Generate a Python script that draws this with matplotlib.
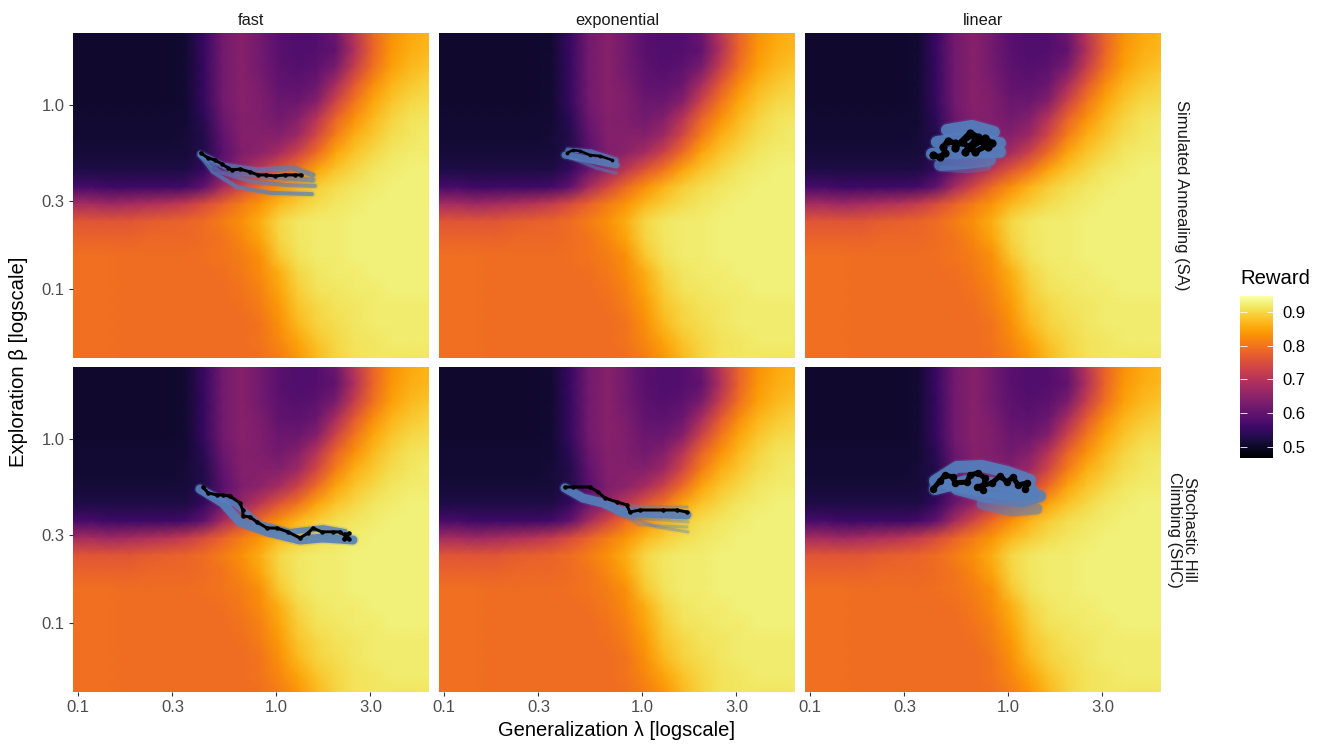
"""
Reward landscape over generalization and exploration, six search strategies
"""
import numpy as np
import matplotlib
matplotlib.use("Agg")
import matplotlib.pyplot as plt

plt.rcParams['font.family'] = ['Liberation Sans', 'DejaVu Sans']

schedules = ["fast", "exponential", "linear"]
algorithms = ["Simulated Annealing (SA)", "Stochastic Hill\nClimbing (SHC)"]

lam_ticks = [0.1, 0.3, 1.0, 3.0]
beta_ticks = [0.1, 0.3, 1.0]
reward_ticks = [0.5, 0.6, 0.7, 0.8, 0.9]

lam_grid = [0.0944, 0.1174, 0.146, 0.1815, 0.2258, 0.2807, 0.349, 0.434, 0.5395, 0.671,
            0.834, 1.037, 1.29, 1.604, 1.995, 2.48, 3.08, 3.83, 4.77, 5.93]
beta_grid = [2.46, 1.986, 1.604, 1.295, 1.045, 0.843, 0.681, 0.550, 0.444, 0.358,
             0.289, 0.233, 0.188, 0.152, 0.123, 0.0993, 0.0802, 0.0647, 0.0522, 0.0422]

# mean reward, one row per beta_grid value, one column per lam_grid value
reward = [
    [.505, .505, .505, .505, .505, .505, .51, .555, .62, .645, .62, .59, .58, .585, .61, .70, .78, .83, .855, .865],
    [.505, .505, .505, .505, .505, .505, .51, .555, .62, .645, .62, .59, .58, .585, .60, .69, .78, .835, .86, .87],
    [.505, .505, .505, .505, .505, .505, .51, .55, .62, .645, .62, .595, .585, .595, .625, .72, .795, .845, .87, .88],
    [.505, .505, .505, .505, .505, .505, .51, .55, .62, .645, .63, .60, .595, .61, .68, .765, .825, .865, .885, .895],
    [.505, .505, .505, .505, .505, .505, .51, .55, .62, .645, .635, .61, .61, .64, .73, .80, .85, .88, .90, .905],
    [.51, .51, .51, .51, .51, .51, .51, .54, .61, .64, .635, .62, .64, .70, .78, .83, .87, .895, .91, .915],
    [.51, .51, .51, .51, .51, .51, .515, .53, .60, .64, .64, .64, .67, .74, .81, .86, .885, .905, .915, .92],
    [.515, .515, .515, .515, .515, .515, .515, .53, .59, .635, .65, .68, .73, .79, .85, .88, .90, .915, .92, .92],
    [.525, .525, .525, .525, .525, .525, .525, .55, .61, .66, .71, .76, .80, .85, .88, .90, .915, .92, .925, .925],
    [.57, .57, .56, .56, .56, .56, .565, .60, .68, .74, .79, .83, .865, .89, .905, .915, .92, .925, .925, .925],
    [.68, .68, .67, .68, .69, .70, .72, .75, .78, .81, .835, .87, .89, .905, .915, .92, .925, .925, .925, .925],
    [.76, .76, .76, .76, .77, .775, .78, .79, .81, .83, .86, .90, .915, .92, .92, .925, .925, .925, .925, .925],
    [.78, .78, .78, .78, .785, .785, .785, .79, .80, .82, .85, .895, .915, .92, .92, .925, .925, .925, .925, .925],
    [.795, .795, .795, .79, .79, .79, .79, .795, .80, .81, .83, .885, .91, .92, .92, .925, .925, .925, .925, .925],
    [.795, .795, .795, .79, .79, .79, .79, .79, .795, .805, .825, .86, .90, .915, .92, .92, .925, .925, .925, .925],
    [.795, .795, .795, .79, .79, .79, .79, .79, .79, .80, .815, .85, .89, .91, .915, .92, .92, .925, .925, .925],
    [.795, .795, .795, .79, .79, .79, .79, .79, .79, .795, .81, .84, .88, .90, .91, .915, .92, .92, .92, .92],
    [.795, .795, .795, .79, .79, .79, .79, .79, .79, .79, .80, .83, .87, .895, .905, .915, .92, .92, .92, .92],
    [.795, .795, .795, .79, .79, .79, .79, .79, .79, .79, .80, .82, .85, .88, .90, .91, .915, .92, .92, .92],
    [.795, .795, .795, .79, .79, .79, .79, .79, .79, .79, .795, .81, .835, .87, .895, .91, .915, .915, .915, .915],
]

# best run per panel, log10(lambda) and log10(beta)
best_sa_fast_x = [-.379, -.343, -.308, -.273, -.242, -.222, -.182, -.131, -.091, -.051, -.005, .045, .096, .126]
best_sa_fast_y = [-.261, -.288, -.299, -.321, -.342, -.353, -.348, -.364, -.380, -.380, -.386, -.380, -.380, -.380]
best_sa_exp_x = [-.379, -.348, -.313, -.263, -.212, -.152]
best_sa_exp_y = [-.261, -.245, -.250, -.272, -.277, -.299]
best_sa_lin_x = [-.379, -.343, -.318, -.328, -.303, -.268, -.268, -.192, -.152, -.217, -.116, -.081, -.167, -.232, -.182, -.101]
best_sa_lin_y = [-.272, -.283, -.261, -.228, -.196, -.207, -.234, -.152, -.174, -.255, -.179, -.207, -.255, -.201, -.163, -.228]
best_shc_fast_x = [-.369, -.343, -.298, -.268, -.232, -.182, -.167, -.167, -.131, -.096, -.045, .005, .061, .121, .162, .187,
                   .232, .288, .323, .359, .348, .369, .343, .369]
best_shc_fast_y = [-.261, -.293, -.304, -.304, -.310, -.348, -.386, -.418, -.424, -.451, -.484, -.484, -.505, -.538, -.511,
                   -.484, -.505, -.505, -.505, -.533, -.516, -.543, -.543, -.511]
best_shc_exp_x = [-.389, -.348, -.263, -.222, -.187, -.126, -.076, -.061, -.010, .106, .177, .227]
best_shc_exp_y = [-.261, -.261, -.261, -.288, -.321, -.342, -.359, -.397, -.386, -.386, -.386, -.397]
best_shc_lin_x = [-.379, -.343, -.318, -.278, -.268, -.207, -.192, -.152, -.116, -.126, -.157, -.081, -.040, -.005, .025, .051, .096, .086]
best_shc_lin_y = [-.272, -.228, -.196, -.207, -.239, -.234, -.196, -.185, -.212, -.277, -.261, -.239, -.201, -.234, -.207, -.250, -.239, -.272]

# other runs per panel, (log10(lambda), log10(beta))
runs_sa_fast = [
    ([-.384, -.318, -.197, -.030, .182], [-.272, -.364, -.446, -.478, -.484]),
    ([-.384, -.283, -.116, .056, .197], [-.272, -.364, -.418, -.435, -.440]),
    ([-.384, -.268, -.096, .086, .187], [-.261, -.326, -.353, -.342, -.380]),
    ([-.384, -.197, -.030, .187], [-.272, -.370, -.391, -.408]),
]
runs_sa_exp = [
    ([-.389, -.308, -.207, -.131], [-.272, -.288, -.310, -.326]),
    ([-.374, -.258, -.131], [-.245, -.255, -.299]),
    ([-.359, -.232, -.131], [-.288, -.342, -.370]),
]
runs_sa_lin = [
    ([-.308, -.182, -.071], [-.136, -.114, -.147]),
    ([-.359, -.207, -.040], [-.201, -.179, -.207]),
    ([-.384, -.207, -.040], [-.266, -.255, -.255]),
    ([-.343, -.207, -.091], [-.326, -.315, -.299]),
    ([-.330, -.207, -.100], [-.345, -.355, -.340]),
]
runs_shc_fast = [
    ([-.384, -.268, -.182, -.045, .121, .237, .389], [-.272, -.348, -.451, -.505, -.549, -.538, -.549]),
    ([-.333, -.207, -.081, .071, .237, .348], [-.299, -.353, -.462, -.505, -.484, -.505]),
]
runs_shc_exp = [
    ([-.389, -.298, -.197, -.096, -.010, .227], [-.266, -.321, -.348, -.397, -.402, -.413]),
    ([-.131, -.076, .227], [-.397, -.364, -.370]),
    ([-.131, -.045, .232], [-.397, -.429, -.451]),
    ([-.131, -.010, .227], [-.397, -.467, -.478]),
    ([-.131, .076, .232], [-.397, -.478, -.505]),
]
runs_shc_lin = [
    ([-.369, -.258, -.131, -.005, .111], [-.228, -.152, -.147, -.179, -.223]),
    ([-.369, -.207, -.030, .121], [-.272, -.228, -.245, -.277]),
    ([-.310, -.150, .000, .130], [-.245, -.280, -.300, -.300]),
    ([-.258, -.106, .071, .162], [-.272, -.315, -.337, -.310]),
    ([-.131, .020, .146], [-.353, -.391, -.380]),
]

best_runs = [
    [(best_sa_fast_x, best_sa_fast_y), (best_sa_exp_x, best_sa_exp_y), (best_sa_lin_x, best_sa_lin_y)],
    [(best_shc_fast_x, best_shc_fast_y), (best_shc_exp_x, best_shc_exp_y), (best_shc_lin_x, best_shc_lin_y)],
]
other_runs = [
    [runs_sa_fast, runs_sa_exp, runs_sa_lin],
    [runs_shc_fast, runs_shc_exp, runs_shc_lin],
]
# stroke width and opacity of each other run in pixels, per panel
run_widths = [
    [[4, 4, 5, 5], [7, 5, 3], [12, 12, 12, 12, 6]],
    [[9, 6], [9, 3, 3, 3, 3], [12, 12, 12, 12, 11]],
]
run_alphas = [
    [[.7, .6, .65, .6], [.85, .75, .5], [.9, .9, .9, .75, .35]],
    [[.9, .85], [.9, .4, .35, .35, .4], [.9, .9, .9, .85, .55]],
]
best_widths = [[3, 2.5, 5.5], [3, 3, 5]]

W, H = 1323, 744
PANEL_X = [73, 439, 805]
PANEL_Y = [33, 367]
PANEL_W, PANEL_H = 356, 325
BLUE = "#5480bd"
GREY = "#4d4d4d"


def add_axes_px(fig, x, y, w, h):
    """ Add axes from a pixel box with origin at the top left """
    return fig.add_axes([x / W, 1 - (y + h) / H, w / W, h / H])


def px(n):
    """ Pixels to points """
    return n * 0.72


fig = plt.figure(figsize=(W / 100, H / 100), dpi=100)
mesh = None
for row in range(2):
    for col in range(3):
        ax = add_axes_px(fig, PANEL_X[col], PANEL_Y[row], PANEL_W, PANEL_H)
        mesh = ax.pcolormesh(lam_grid, beta_grid, reward, cmap="inferno", vmin=0.467, vmax=0.947,
                             shading="gouraud", rasterized=True)
        ax.set_xscale("log")
        ax.set_yscale("log")
        ax.set_xlim(lam_grid[0], lam_grid[-1])
        ax.set_ylim(beta_grid[-1], beta_grid[0])

        runs = other_runs[row][col]
        for (xs, ys), width, alpha in zip(runs, run_widths[row][col], run_alphas[row][col]):
            lx, ly = 10 ** np.array(xs), 10 ** np.array(ys)
            ax.plot(lx, ly, color=BLUE, lw=px(width + 3), alpha=alpha * 0.2, solid_capstyle="round")
            ax.plot(lx, ly, color=BLUE, lw=px(width), alpha=alpha, solid_capstyle="round")

        xs, ys = best_runs[row][col]
        width = best_widths[row][col]
        ax.plot(10 ** np.array(xs), 10 ** np.array(ys), color="black", lw=px(width), marker="o",
                ms=px(width * 1.5), mew=0, solid_capstyle="round", solid_joinstyle="round")

        for side in ax.spines.values():
            side.set_visible(False)
        ax.minorticks_off()
        ax.set_xticks(lam_ticks)
        ax.set_yticks(beta_ticks)
        ax.set_xticklabels([f"{t:.1f}" for t in lam_ticks] if row == 1 else [])
        ax.set_yticklabels([f"{t:.1f}" for t in beta_ticks] if col == 0 else [])
        ax.tick_params(axis="x", length=px(4) if row == 1 else 0, width=0.8, color="#333333",
                       labelcolor=GREY, labelsize=12, pad=3)
        ax.tick_params(axis="y", length=px(4) if col == 0 else 0, width=0.8, color="#333333",
                       labelcolor=GREY, labelsize=12, pad=3)

        if row == 0:
            ax.text(0.5, 1.014, schedules[col], transform=ax.transAxes, ha="center", va="bottom",
                    fontsize=11.8, color="#1a1a1a")
        if col == 2:
            ax.text(1.058, 0.5, algorithms[row], transform=ax.transAxes, ha="center", va="center",
                    rotation=-90, fontsize=12, color="#1a1a1a", linespacing=1.0, multialignment="center")

fig.text(616 / W, 1 - 731 / H, "Generalization λ [logscale]", ha="center", va="center", fontsize=14.5)
fig.text(19 / W, 1 - 362 / H, "Exploration β [logscale]", ha="center", va="center", rotation=90, fontsize=14.6)

cax = add_axes_px(fig, 1240, 296, 33, 162)
bar = fig.colorbar(mesh, cax=cax)
bar.outline.set_visible(False)
bar.set_ticks(reward_ticks)
bar.set_ticklabels([f"{t:.1f}" for t in reward_ticks])
cax.minorticks_off()
cax.tick_params(axis="y", left=True, right=True, direction="in", color="white", length=px(6.5), width=0.6,
                labelsize=12, labelcolor="black", pad=2 + px(6.5))
fig.text(1240 / W, 1 - 278 / H, "Reward", ha="left", va="center", fontsize=14.6)

fig.savefig("out.png", dpi=100)
